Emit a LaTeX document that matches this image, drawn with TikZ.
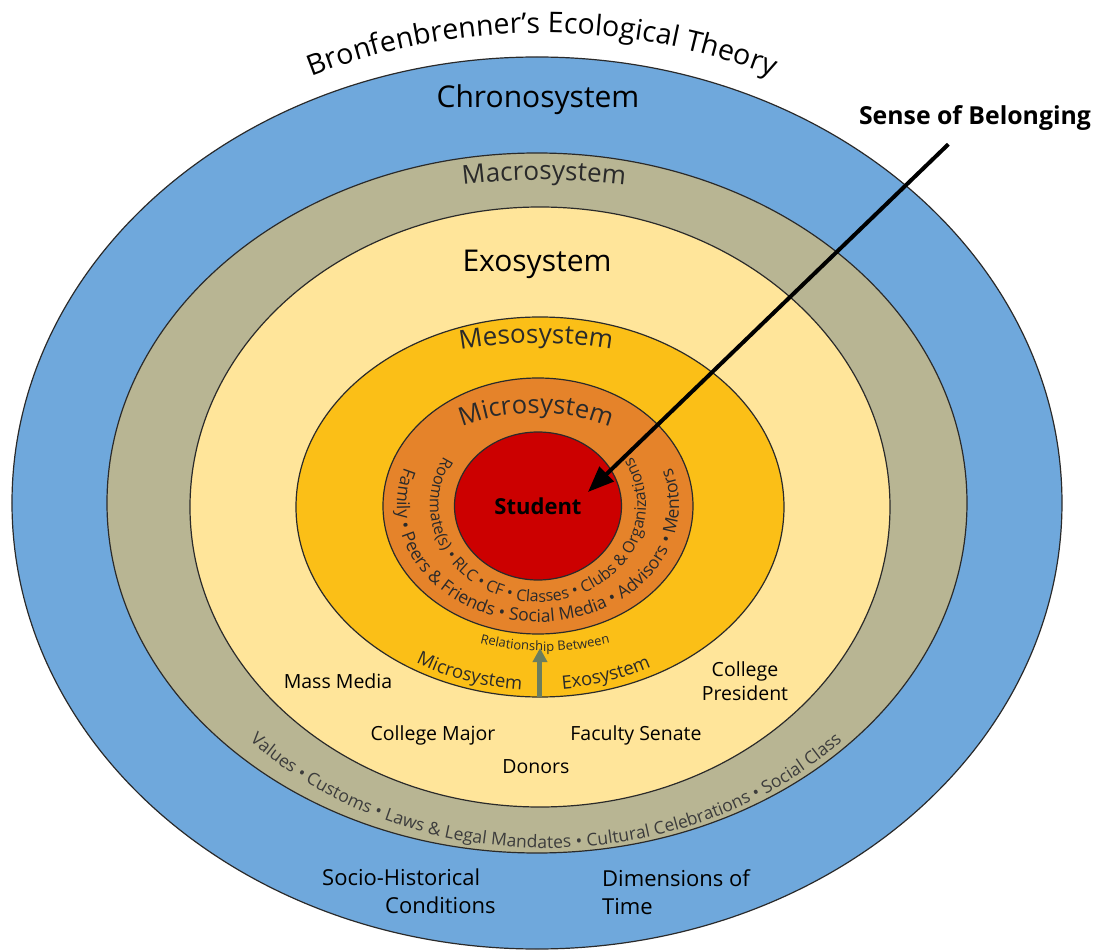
\documentclass[tikz,border=0pt]{standalone}
\usepackage{fontspec}
\setmainfont{Open Sans}
\usetikzlibrary{shapes.geometric,decorations.text,arrows.meta}

\definecolor{chrono}{HTML}{6FA8DC}
\definecolor{macro}{HTML}{B8B593}
\definecolor{exo}{HTML}{FFE59A}
\definecolor{meso}{HTML}{FBBF17}
\definecolor{micro}{HTML}{E5832A}
\definecolor{studentred}{HTML}{CC0000}
\definecolor{outline}{HTML}{2A2A2A}
\definecolor{bandtext}{HTML}{3C3C3C}
\definecolor{relarrow}{HTML}{6B7D5E}

% text set along an elliptic arc: centre, start, end, x radius, y radius, align, text
\newcommand{\arctext}[7]{%
  \path[decorate, decoration={text along path, text align=#6, text={#7}}]
    (#1) ++(#2:#4 and #5) arc [start angle=#2, end angle=#3, x radius=#4, y radius=#5];}

\begin{document}
\begin{tikzpicture}[x=1pt, y=1pt,
    ring/.style={draw=outline, line width=1.2pt},
    plain/.style={inner sep=0pt, font=\fontsize{19.5}{24}\selectfont},
    big/.style={inner sep=0pt, font=\fontsize{30}{34}\selectfont}]
  \path[use as bounding box, fill=white] (-538,-446) rectangle (563,505);

  % the nested systems
  \draw[ring, fill=chrono] (-1,2) ellipse [x radius=525pt, y radius=446pt];
  \draw[ring, fill=macro] (-1,2) ellipse [x radius=430pt, y radius=350pt];
  \draw[ring, fill=exo] (2,-2) ellipse [x radius=350pt, y radius=300pt];
  \draw[ring, fill=meso] (2,-2) ellipse [x radius=244pt, y radius=190pt];
  \draw[ring, fill=micro] (0,-1) ellipse [x radius=155pt, y radius=128pt];
  \node[ring, ellipse, fill=studentred, minimum width=167pt, minimum height=148pt,
    inner sep=0pt, font=\bfseries\fontsize{22}{24}\selectfont] (student) at (0,-1) {Student};

  % names of the systems
  \arctext{4,0}{140}{40}{550pt}{472pt}{center}{|\fontsize{28.5}{31}\selectfont|Bronfenbrenner’s Ecological Theory}
  \node[big, anchor=base] (chronosys) at (0,397) {Chronosystem};
  \arctext{6,0}{150}{30}{470pt}{325pt}{center}{|\fontsize{26}{28}\selectfont\color{outline}|Macrosystem}
  \node[big, anchor=base] (exosys) at (-1,233) {Exosystem};
  \arctext{-2,0}{150}{30}{267pt}{162pt}{center}{|\fontsize{26}{28}\selectfont\color{outline}|Mesosystem}
  \arctext{-2,0}{160}{20}{141pt}{92pt}{center}{|\fontsize{25.5}{28}\selectfont\color{outline}|Microsystem}

  % microsystem
  \arctext{0,0}{130}{410}{108pt}{97pt}{center}{|\fontsize{16}{18}\selectfont\color{outline}|Roommate(s) • RLC • CF • Classes • Clubs {\&} Organizations}
  \arctext{0,0}{130}{410}{141pt}{117pt}{center}{|\fontsize{17.5}{20}\selectfont\color{outline}|Family • Peers {\&} Friends • Social Media • Advisors • Mentors}

  % mesosystem
  \arctext{7,0}{220}{320}{200pt}{146pt}{center}{|\fontsize{13}{15}\selectfont\color{outline}|Relationship Between}
  \arctext{0,0}{200}{266}{232pt}{185pt}{right}{|\fontsize{18.5}{20}\selectfont\color{outline}|Microsystem}
  \arctext{0,0}{276}{340}{232pt}{185pt}{left}{|\fontsize{18.5}{20}\selectfont\color{outline}|Exosystem}
  \coordinate (relfoot) at (2,-192);
  \coordinate (reltip) at (2,-143);
  \draw[relarrow, line width=5pt, -{Triangle[length=14pt,width=14pt]}] (relfoot) -- (reltip);

  % exosystem
  \node[plain, anchor=base] (massmedia) at (-200,-183) {Mass Media};
  \node[plain, align=center] (president) at (207,-176) {College\\President};
  \node[plain, anchor=base] (major) at (-105,-235) {College Major};
  \node[plain, anchor=base] (senate) at (98,-235) {Faculty Senate};
  \node[plain, anchor=base] (donors) at (-2,-268) {Donors};

  % macrosystem
  \arctext{8,0}{200}{340}{408pt}{343pt}{center}{|\fontsize{17.5}{19}\selectfont\color{bandtext}|Values • Customs • Laws {\&} Legal Mandates • Cultural Celebrations • Social Class}

  % chronosystem
  \node[plain, font=\fontsize{22}{28}\selectfont, align=left, anchor=north west] (sociohist) at (-216,-364) {Socio-Historical\\\hspace*{63pt}Conditions};
  \node[plain, font=\fontsize{22}{28}\selectfont, align=left, anchor=north west] (timedim) at (64,-364) {Dimensions of\\Time};

  % sense of belonging
  \node[inner sep=2pt, anchor=base, font=\bfseries\fontsize{24.8}{28}\selectfont] (belong) at (437,380) {Sense of Belonging};
  \coordinate (tip) at (50,13);
  \draw[line width=4pt, -{Triangle[length=26pt,width=20pt]}, shorten <=16pt] (belong) -- (tip);
\end{tikzpicture}
\end{document}
